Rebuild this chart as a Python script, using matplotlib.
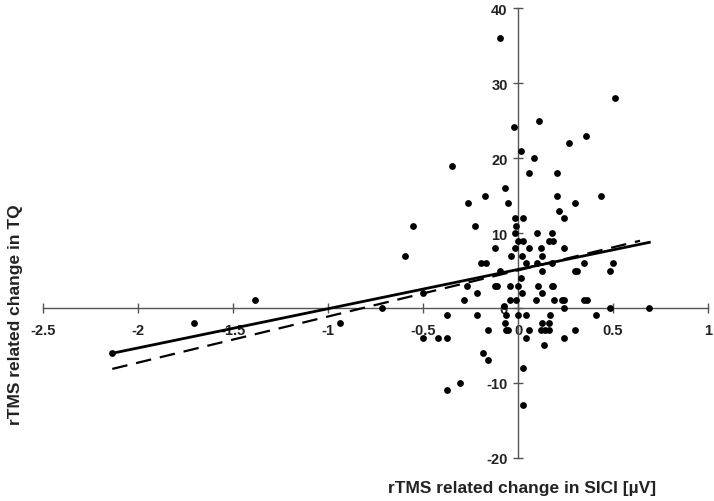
import matplotlib
matplotlib.use("Agg")
import matplotlib.pyplot as plt
import numpy as np

# --- data ---
x_vals = [-0.093, 0.512, 0.108, -0.023, 0.357, 0.269, 0.016, 0.084, -0.346, 0.056,
          0.206, -0.07, -0.174, 0.206, 0.436, -0.265, -0.053, 0.299, 0.216, -0.554,
          -0.227, -0.014, 0.026, 0.24, -0.009, -0.017, 0.097, 0.176, 0.0, 0.026,
          0.162, 0.185, -0.123, -0.017, 0.056, 0.12, 0.24, -0.596, -0.035, 0.018,
          0.127, -0.193, -0.17, 0.039, 0.097, 0.176, 0.348, 0.498, -0.093, 0.127,
          0.30, 0.31, 0.484, 0.016, -0.27, -0.123, -0.11, -0.044, 0.0, 0.106,
          0.176, 0.185, -0.5, -0.214, 0.018, 0.127, -0.285, -0.044, -0.009, 0.093,
          0.188, 0.229, 0.241, 0.348, 0.361, -0.716, -0.075, 0.241, 0.484, 0.691,
          -0.375, -0.214, -0.065, -0.003, 0.044, 0.167, 0.41, -0.07, 0.127, 0.162,
          -0.937, -0.161, -0.065, -0.053, 0.056, 0.12, 0.14, 0.163, 0.299, -0.5,
          -0.422, -0.375, 0.044, 0.24, 0.137, -0.185, -0.161, 0.026, -0.375, -0.304,
          0.026, -2.137, -1.706, -1.386]
y_vals = [36, 28, 25, 24.1, 23, 22, 21, 20, 19, 18,
          18, 16, 15, 15, 15, 14, 14, 14, 13, 11,
          11, 12, 12, 12, 11, 10, 10, 10, 9, 9,
          9, 9, 8, 8, 8, 8, 8, 7, 7, 7,
          7, 6, 6, 6, 6, 6, 6, 6, 5, 5,
          5, 5, 5, 4, 3, 3, 3, 3, 3, 3,
          3, 3, 2, 2, 2, 2, 1, 1, 1, 1,
          1, 1, 1, 1, 1, 0, 0.2, 0, 0, 0,
          -1, -1, -1, -1, -1, -1, -1, -2, -2, -2,
          -2, -3, -3, -3, -3, -3, -3, -3, -3, -4,
          -4, -4, -4, -4, -5, -6, -7, -8, -11, -10,
          -13, -6, -2, 1]

# regression lines: (slope, intercept, x_start, x_end)
solid_fit = (5.23, 5.14, -2.137, 0.691)
dashed_fit = (6.15, 5.02, -2.137, 0.642)

x_ticks = [-2.5, -2, -1.5, -1, -0.5, 0, 0.5, 1]
x_ticklabels = ["-2.5", "-2", "-1.5", "-1", "-0.5", "0", "0.5", "1"]
y_ticks = [-20, -10, 0, 10, 20, 30, 40]
y_ticklabels = ["-20", "-10", "0", "10", "20", "30", "40"]

x_label = "rTMS related change in SICI [µV]"
y_label = "rTMS related change in TQ"

# --- figure ---
fig = plt.figure(figsize=(7.14, 5.02), dpi=100)
ax = fig.add_axes([0.0607, 0.0857, 0.9309, 0.8963])
ax.set_xlim(-2.5, 1)
ax.set_ylim(-20, 40)

ax.scatter(x_vals, y_vals, s=24, color="black", zorder=3, linewidths=0)

xs = np.array([solid_fit[2], solid_fit[3]])
ax.plot(xs, solid_fit[0] * xs + solid_fit[1], color="black", lw=2.0, zorder=4)
xd = np.array([dashed_fit[2], dashed_fit[3]])
ax.plot(xd, dashed_fit[0] * xd + dashed_fit[1], color="black", lw=1.6,
        linestyle=(0, (7, 4)), zorder=4)

for side in ["top", "right"]:
    ax.spines[side].set_visible(False)
ax.spines["left"].set_position(("data", 0))
ax.spines["bottom"].set_position(("data", 0))
for side in ["left", "bottom"]:
    ax.spines[side].set_color("#555555")
    ax.spines[side].set_linewidth(1.0)

tick_font = dict(family=["Liberation Sans Narrow", "Liberation Sans", "DejaVu Sans"],
                 weight="bold", size=10.5)
ax.set_xticks(x_ticks)
ax.set_xticklabels(x_ticklabels, **tick_font)
ax.set_yticks(y_ticks)
ax.set_yticklabels(y_ticklabels, **tick_font)
ax.tick_params(axis="x", direction="inout", length=7, width=1, color="#555555",
               pad=7, labelcolor="#222222")
ax.tick_params(axis="y", direction="inout", length=7, width=1, color="#555555",
               pad=4, labelcolor="#222222")

label_font = dict(family=["Liberation Sans", "DejaVu Sans"], size=12.5, weight="bold")
fig.text(522 / 714, 1 - 489 / 502, x_label, ha="center", va="center", color="#222222", **label_font)
fig.text(16 / 714, 1 - 315 / 502, y_label, ha="center", va="center", rotation=90,
         color="#222222", **label_font)

fig.savefig("out.png", dpi=100)
